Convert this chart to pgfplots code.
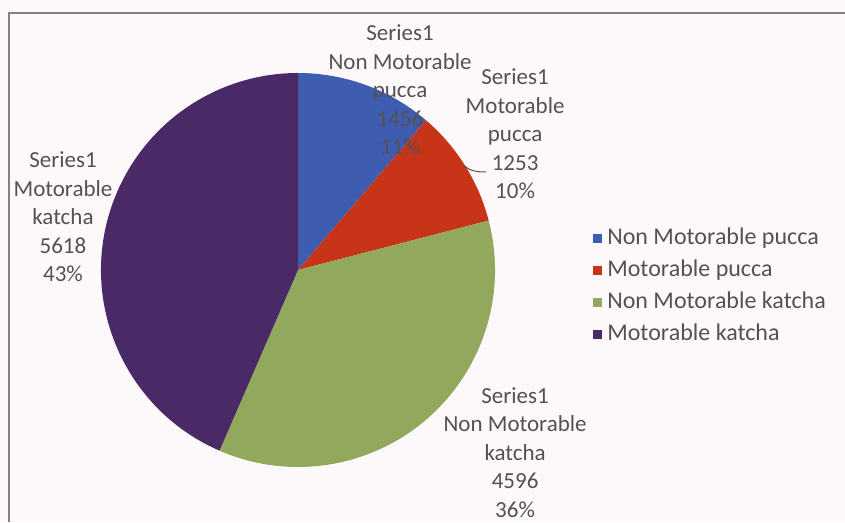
\documentclass[border=0pt]{standalone}
\usepackage{pgfplots}
\pgfplotsset{compat=1.18}
\usepackage{pgfplotstable}
\usepackage{fontspec}
\setmainfont{Carlito}
\definecolor{cblue}{RGB}{62,92,176}
\definecolor{cred}{RGB}{200,52,24}
\definecolor{cgreen}{RGB}{146,168,92}
\definecolor{cpurple}{RGB}{74,42,102}
\definecolor{labc}{RGB}{84,80,84}
\definecolor{bgc}{RGB}{253,249,251}
\definecolor{framec}{RGB}{130,130,130}
\tikzset{lbl/.style={align=center, text=labc, font=\fontsize{23}{28.5}\selectfont}}
\pgfplotstableread{
idx value
0 1456
1 1253
2 4596
3 5618
}\piedata
\pgfplotstablegetelem{0}{value}\of\piedata \let\va\pgfplotsretval
\pgfplotstablegetelem{1}{value}\of\piedata \let\vb\pgfplotsretval
\pgfplotstablegetelem{2}{value}\of\piedata \let\vc\pgfplotsretval
\pgfplotstablegetelem{3}{value}\of\piedata \let\vd\pgfplotsretval
\pgfmathsetmacro\total{\va+\vb+\vc+\vd}
\pgfmathsetmacro\aA{90-(\va/\total)*360}
\pgfmathsetmacro\aB{\aA-(\vb/\total)*360}
\pgfmathsetmacro\aC{\aB-(\vc/\total)*360}
\pgfmathsetmacro\xA{cos(\aA)}\pgfmathsetmacro\yA{sin(\aA)}
\pgfmathsetmacro\xB{cos(\aB)}\pgfmathsetmacro\yB{sin(\aB)}
\pgfmathsetmacro\xC{cos(\aC)}\pgfmathsetmacro\yC{sin(\aC)}
\begin{document}
\begin{tikzpicture}
\useasboundingbox[fill=bgc] (0,0) rectangle (845pt,522pt);
\draw[framec, line width=1.4pt] (9pt,0pt) -- (9pt,509pt) -- (845pt,509pt);
\begin{axis}[
  at={(298pt,252pt)}, anchor=center,
  x=197pt, y=197pt,
  xmin=-1, xmax=1, ymin=-1, ymax=1,
  hide axis, clip=false,
  legend image code/.code={\fill[#1] (0pt,-4.5pt) rectangle (9pt,4.5pt);},
  legend style={at={(axis description cs:1.249,0.609)}, anchor=north west,
    draw=none, fill=none, inner sep=0pt, text=labc,
    font=\fontsize{24}{28}\selectfont, row sep=9pt,
    /tikz/every odd column/.append style={column sep=4pt},
    nodes={inner sep=1pt, text height=16pt, text depth=5pt}},
  legend cell align=left,
]
\addlegendimage{fill=cblue, draw=none}
\addlegendentry{Non Motorable pucca}
\addlegendimage{fill=cred, draw=none}
\addlegendentry{Motorable pucca}
\addlegendimage{fill=cgreen, draw=none}
\addlegendentry{Non Motorable katcha}
\addlegendimage{fill=cpurple, draw=none}
\addlegendentry{Motorable katcha}
\fill[cblue] (axis cs:0,0) -- (axis cs:0,1) arc[start angle=90, end angle=\aA, radius=197pt] -- cycle;
\fill[cred] (axis cs:0,0) -- (axis cs:\xA,\yA) arc[start angle=\aA, end angle=\aB, radius=197pt] -- cycle;
\fill[cgreen] (axis cs:0,0) -- (axis cs:\xB,\yB) arc[start angle=\aB, end angle=\aC, radius=197pt] -- cycle;
\fill[cpurple] (axis cs:0,0) -- (axis cs:\xC,\yC) arc[start angle=\aC, end angle=-270, radius=197pt] -- cycle;
\node[lbl] at (axis cs:0.518,0.914) {Series1\\Non Motorable\\pucca\\1456\\11\%};
\node[lbl] at (axis cs:1.102,0.690) {Series1\\Motorable\\pucca\\1253\\10\%};
\node[lbl] at (axis cs:1.102,-0.925) {Series1\\Non Motorable\\katcha\\4596\\36\%};
\node[lbl] at (axis cs:-1.193,0.269) {Series1\\Motorable\\katcha\\5618\\43\%};
\draw[labc, line width=1pt] (axis cs:0.845,0.528) to[out=-40,in=180] (axis cs:0.955,0.498);
\end{axis}
\end{tikzpicture}
\end{document}
